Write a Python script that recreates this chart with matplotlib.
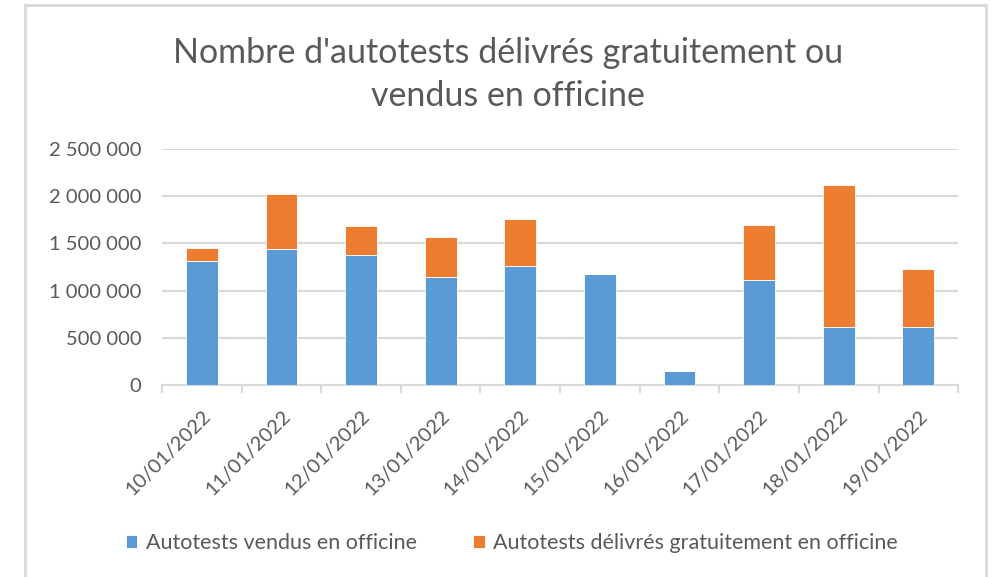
import matplotlib.pyplot as plt
from matplotlib.patches import Rectangle
from matplotlib.ticker import FuncFormatter, FixedLocator
import numpy as np

plt.rcParams['font.family'] = ['Lato', 'DejaVu Sans']

dates = ["10/01/2022", "11/01/2022", "12/01/2022", "13/01/2022", "14/01/2022",
         "15/01/2022", "16/01/2022", "17/01/2022", "18/01/2022", "19/01/2022"]
vendus = [1315000, 1439000, 1379000, 1139000, 1262000,
          1174000, 145000, 1110000, 619000, 619000]
gratuits = [135000, 584000, 301000, 431000, 499000,
            0, 0, 584000, 1496000, 612000]

bleu = "#5b9bd5"
orange = "#ed7d31"
gris_txt = "#595959"
gris_ligne = "#d9d9d9"

fig = plt.figure(figsize=(9.94, 5.77), dpi=100)
ax = fig.add_axes([0.163, 0.3328, 0.801, 0.409])

x = np.arange(len(dates))
ax.bar(x, vendus, width=0.4, color=bleu, edgecolor="white", linewidth=0.6,
       label="Autotests vendus en officine", zorder=3)
ax.bar(x, gratuits, width=0.4, bottom=vendus, color=orange, edgecolor="white",
       linewidth=0.6, label="Autotests délivrés gratuitement en officine", zorder=3)

ax.set_xlim(-0.5, len(dates) - 0.5)
ax.set_ylim(0, 2500000)
ax.set_yticks(np.arange(0, 2500001, 500000))
ax.yaxis.set_major_formatter(FuncFormatter(lambda v, p: f"{int(v):,}".replace(",", " ")))
ax.grid(axis="y", color=gris_ligne, linewidth=1.5, zorder=0)

for s in ["top", "right", "left"]:
    ax.spines[s].set_visible(False)
ax.spines["bottom"].set_color(gris_ligne)
ax.spines["bottom"].set_linewidth(1.5)

ax.set_xticks(x)
ax.set_xticklabels(dates, rotation=45, ha="right", va="top", rotation_mode="anchor")
ax.xaxis.set_minor_locator(FixedLocator(np.arange(-0.5, len(dates), 1)))
ax.tick_params(axis="x", which="major", length=0, pad=16, labelsize=14.5, labelcolor=gris_txt)
ax.tick_params(axis="x", which="minor", length=6, width=1.5, color=gris_ligne)
ax.tick_params(axis="y", length=0, pad=15, labelsize=14.5, labelcolor=gris_txt)

fig.text(0.511, 0.871, "Nombre d'autotests délivrés gratuitement ou\nvendus en officine",
         ha="center", va="center", fontsize=24.5, color=gris_txt, linespacing=1.45)

fig.legend(loc="center", bbox_to_anchor=(0.515, 0.059), ncol=2, frameon=False,
           fontsize=15.5, labelcolor=gris_txt, handlelength=0.55, handleheight=0.55,
           handletextpad=0.4, columnspacing=2.6)

fig.patches.append(Rectangle((0.0252, -0.01), 0.967, 1.0013, transform=fig.transFigure,
                             fill=False, edgecolor=gris_ligne, linewidth=2))

fig.savefig("out.png", dpi=100)
